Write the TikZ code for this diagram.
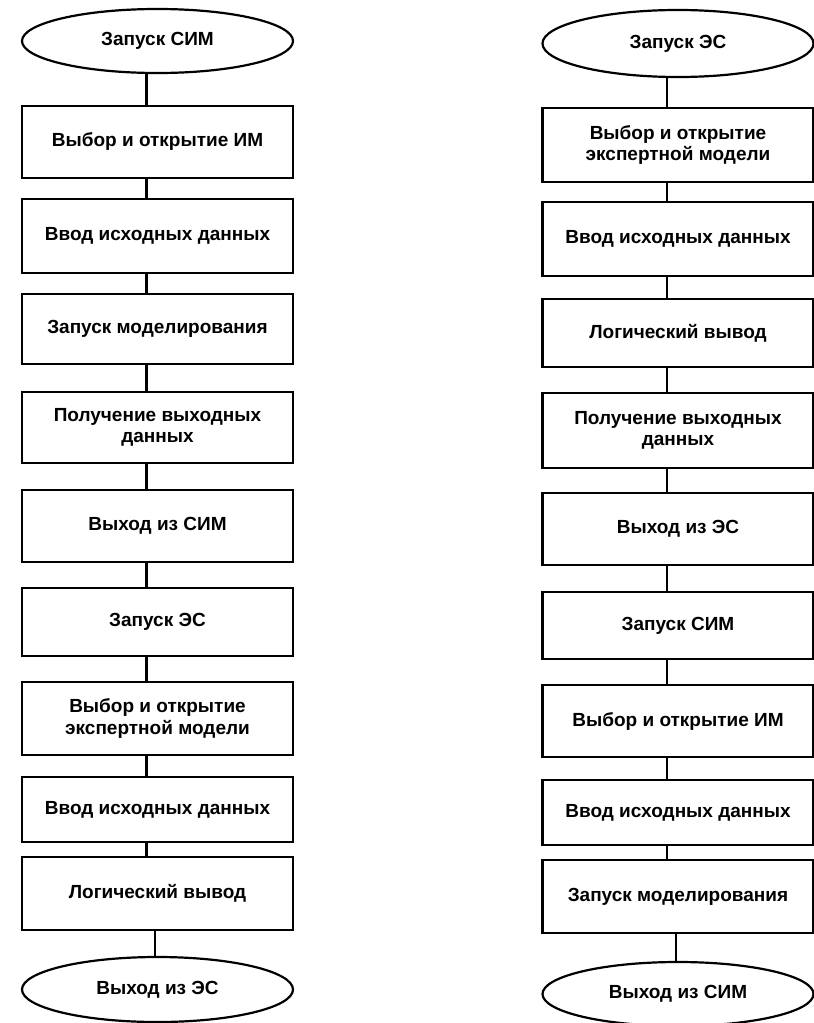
\documentclass[tikz,border=0pt]{standalone}
\usepackage{fontspec}
\setmainfont{Liberation Sans}
\usetikzlibrary{shapes.geometric}
\begin{document}
\begin{tikzpicture}[x=1pt,y=-1pt,
  every node/.style={font=\fontsize{19}{21.5}\selectfont\bfseries, align=center, inner sep=0pt},
  boxnode/.style={draw, line width=2.2pt, minimum width=271pt},
  ovalnode/.style={draw, ellipse, line width=2.2pt, minimum width=271pt},
  link/.style={draw, line width=2.2pt}]
\useasboundingbox (0,0) rectangle (814,1023);
% left column
\node[ovalnode, minimum height=64pt] (le1) at (157.5,41) {Запуск СИМ};
\node[boxnode, minimum height=72pt] (lb1) at (157.5,142) {Выбор и открытие ИМ};
\node[boxnode, minimum height=74pt] (lb2) at (157.5,236) {Ввод исходных данных};
\node[boxnode, minimum height=70pt] (lb3) at (157.5,329) {Запуск моделирования};
\node[boxnode, minimum height=71pt] (lb4) at (157.5,427.5) {Получение выходных\\данных};
\node[boxnode, minimum height=72pt] (lb5) at (157.5,526) {Выход из СИМ};
\node[boxnode, minimum height=68pt] (lb6) at (157.5,622) {Запуск ЭС};
\node[boxnode, minimum height=73pt] (lb7) at (157.5,718.5) {Выбор и открытие\\экспертной модели};
\node[boxnode, minimum height=65pt] (lb8) at (157.5,809.5) {Ввод исходных данных};
\node[boxnode, minimum height=73pt] (lb9) at (157.5,893.5) {Логический вывод};
\node[ovalnode, minimum height=65pt] (le2) at (157.5,989.5) {Выход из ЭС};
% right column
\node[ovalnode, minimum height=67pt] (re1) at (678,43.5) {Запуск ЭС};
\node[boxnode, minimum height=74pt] (rb1) at (678,145) {Выбор и открытие\\экспертной модели};
\node[boxnode, minimum height=74pt] (rb2) at (678,239) {Ввод исходных данных};
\node[boxnode, minimum height=68pt] (rb3) at (678,333) {Логический вывод};
\node[boxnode, minimum height=75pt] (rb4) at (678,430.5) {Получение выходных\\данных};
\node[boxnode, minimum height=72pt] (rb5) at (678,529) {Выход из ЭС};
\node[boxnode, minimum height=67pt] (rb6) at (678,625.5) {Запуск СИМ};
\node[boxnode, minimum height=72pt] (rb7) at (678,721) {Выбор и открытие ИМ};
\node[boxnode, minimum height=65pt] (rb8) at (678,812.5) {Ввод исходных данных};
\node[boxnode, minimum height=73pt] (rb9) at (678,896.5) {Запуск моделирования};
\node[ovalnode, minimum height=64pt] (re2) at (678,994) {Выход из СИМ};
% connectors
\foreach \a/\b in {le1/lb1,lb1/lb2,lb2/lb3,lb3/lb4,lb4/lb5,lb5/lb6,lb6/lb7,lb7/lb8,lb8/lb9,
                   re1/rb1,rb1/rb2,rb2/rb3,rb3/rb4,rb4/rb5,rb5/rb6,rb6/rb7,rb7/rb8,rb8/rb9}
  \path[link] ([xshift=-11pt]\a.south) -- ([xshift=-11pt]\b.north);
\path[link] ([xshift=-2.5pt]lb9.south) -- ([xshift=-2.5pt]le2.north);
\path[link] ([xshift=-2pt]rb9.south) -- ([xshift=-2pt]re2.north);
\end{tikzpicture}
\end{document}
